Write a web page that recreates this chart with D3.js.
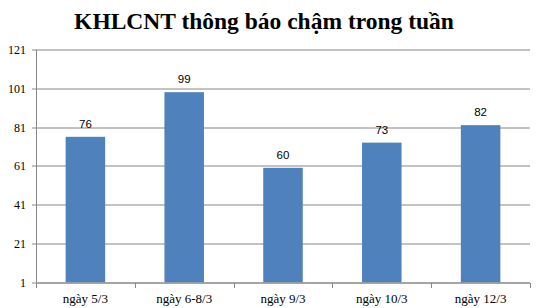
<!DOCTYPE html>
<html>
<head>
<meta charset="utf-8">
<script src="https://cdn.jsdelivr.net/npm/d3@7"></script>
<style>
  body { margin: 0; background: #fff; }
  svg { display: block; }
</style>
</head>
<body>
<div id="chart"></div>
<script>
'use strict';

var categories = ['ngày 5/3', 'ngày 6-8/3', 'ngày 9/3', 'ngày 10/3', 'ngày 12/3'];
var values     = [76, 99, 60, 73, 82];
var yTicks     = [1, 21, 41, 61, 81, 101, 121];
var title      = 'KHLCNT thông báo chậm trong tuần';

var width = 537, height = 308;
var margins = {top: 49.5, bottom: 25.7, left: 36, right: 7};
var cw = width - margins.left - margins.right;
var ch = height - margins.top - margins.bottom;

var svg = d3.select('#chart').append('svg')
    .attr('width', width)
    .attr('height', height);

svg.append('text')
    .attr('x', 264)
    .attr('y', 28.5)
    .attr('text-anchor', 'middle')
    .style('font-family', '"Liberation Serif", "Times New Roman", serif')
    .style('font-weight', 'bold')
    .style('font-size', '23.5px')
    .text(title);

var xScale = d3.scaleBand().domain(categories).range([0, cw]).padding(0);
var yScale = d3.scaleLinear().domain([1, 121]).range([ch, 0]);

var chart = svg.append('g')
    .attr('transform', 'translate(' + margins.left + ',' + margins.top + ')');

// gridlines
chart.append('g')
    .selectAll('line')
    .data(yTicks)
    .enter()
    .append('line')
    .attr('x1', 0)
    .attr('x2', cw)
    .attr('y1', function(d){ return Math.round(yScale(d)) + 0.5; })
    .attr('y2', function(d){ return Math.round(yScale(d)) + 0.5; })
    .style('stroke', '#878787')
    .style('stroke-width', 1);

// y axis
var yAxis = d3.axisLeft(yScale).tickValues(yTicks).tickSize(4).tickPadding(6);
var yg = chart.append('g').call(yAxis);
yg.select('.domain').remove();
yg.selectAll('.tick line').style('stroke', '#878787');
yg.selectAll('.tick').attr('transform', function(d){ return 'translate(0,' + (Math.round(yScale(d)) + 0.5) + ')'; });
yg.selectAll('text')
    .style('font-family', '"Liberation Serif", "Times New Roman", serif')
    .style('font-size', '12px')
    .style('fill', '#000');

chart.append('line')
    .attr('x1', 0.5).attr('x2', 0.5)
    .attr('y1', 0).attr('y2', ch)
    .style('stroke', '#878787');

// bars
var barW = xScale.bandwidth() * 0.4;
chart.append('g')
    .selectAll('rect')
    .data(values)
    .enter()
    .append('rect')
    .attr('x', function(d, i){ return xScale(categories[i]) + (xScale.bandwidth() - barW) / 2; })
    .attr('y', function(d){ return yScale(d); })
    .attr('width', barW)
    .attr('height', function(d){ return ch - yScale(d); })
    .style('fill', '#4F81BD');

// value labels
chart.append('g')
    .selectAll('text')
    .data(values)
    .enter()
    .append('text')
    .attr('x', function(d, i){ return xScale(categories[i]) + xScale.bandwidth() / 2; })
    .attr('y', function(d){ return yScale(d) - 9; })
    .attr('text-anchor', 'middle')
    .style('font-family', '"Liberation Sans", Arial, sans-serif')
    .style('font-size', '11.5px')
    .text(function(d){ return d; });

// x axis
var xTickPos = d3.range(categories.length + 1).map(function(i){ return i * xScale.step(); });
var xg = chart.append('g')
    .attr('transform', 'translate(0,' + (Math.round(ch) + 0.5) + ')');
xg.append('line')
    .attr('x1', 0).attr('x2', cw)
    .style('stroke', '#878787');
xg.selectAll('line.tk')
    .data(xTickPos)
    .enter()
    .append('line')
    .attr('class', 'tk')
    .attr('x1', function(d){ return Math.round(d) + 0.5; })
    .attr('x2', function(d){ return Math.round(d) + 0.5; })
    .attr('y1', 0).attr('y2', 5)
    .style('stroke', '#878787');
xg.selectAll('text')
    .data(categories)
    .enter()
    .append('text')
    .attr('x', function(d){ return xScale(d) + xScale.bandwidth() / 2; })
    .attr('y', 20)
    .attr('text-anchor', 'middle')
    .style('font-family', '"Liberation Serif", "Times New Roman", serif')
    .style('font-size', '13px')
    .text(function(d){ return d; });
</script>
</body>
</html>
